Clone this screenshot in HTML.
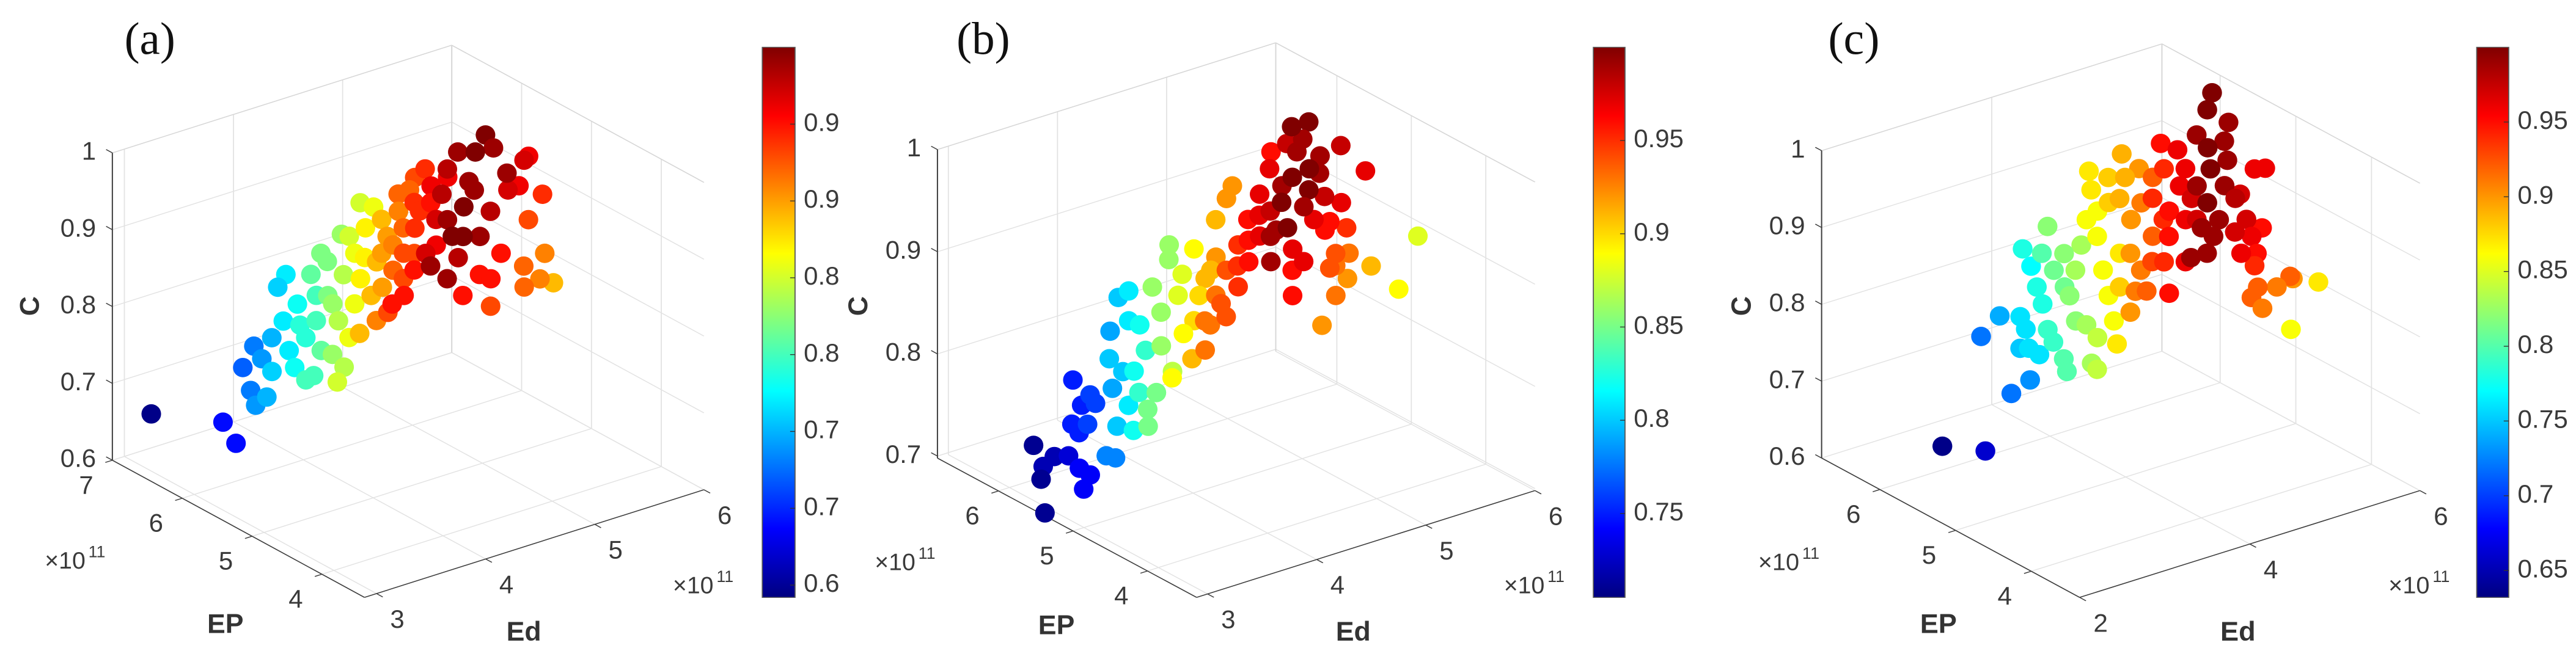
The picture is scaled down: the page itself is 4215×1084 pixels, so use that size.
<!DOCTYPE html>
<html>
<head>
<meta charset="utf-8">
<style>
  html,body{margin:0;padding:0;background:#fff;}
  body{width:4215px;height:1084px;position:relative;overflow:hidden;font-family:"Liberation Sans",Arial,sans-serif;}
  svg.panel{position:absolute;top:0;overflow:visible;}
</style>
</head>
<body>
<svg class="panel" id="pa" style="left:0px" width="1400" height="1084" viewBox="0 0 1568 1568" preserveAspectRatio="none"></svg>
<svg class="panel" id="pb" style="left:1400px" width="1400" height="1084" viewBox="0 0 1568 1568" preserveAspectRatio="none"></svg>
<svg class="panel" id="pc" style="left:2800px" width="1415" height="1084" viewBox="0 0 1568 1568" preserveAspectRatio="none"></svg>
<script>
// ---------- Panel (a) data ----------
const aEd=[3.24,3.20,3.05,3.65,3.37,3.16,3.23,3.86,3.69,3.45,4.38,4.48,3.97,4.15,3.69,3.89,3.46,3.23,3.32,2.98,3.76,3.92,3.55,4.09,4.30,4.74,4.45,5.02,4.97,4.60,4.24,3.72,3.41,3.83,4.30,3.44,3.30,3.37,3.36,3.84,4.16,4.41,4.66,4.87,4.95,3.92,4.08,4.33,4.61,3.80,5.02,4.90,4.30,3.88,3.47,3.31,3.61,3.57,3.97,4.35,4.73,5.00,5.24,5.23,5.04,5.44,5.59,4.21,4.62,5.03,5.22,5.43,5.16,4.48,4.13,4.15,3.81,4.02,4.72,5.06,4.76,4.96,4.50,4.20,4.52,3.94,4.20,4.27,4.43,4.54,4.71,4.82,4.98,3.77,4.05,4.37,4.62,4.64,4.76,4.60,4.11,4.14,3.81,3.95,4.50,3.86,4.19,3.26,4.03,4.67];
const aEP=[6.99,5.90,5.48,6.32,5.77,5.37,5.32,6.49,6.11,5.59,6.96,7.00,6.24,6.32,5.72,6.28,5.28,4.76,4.79,3.92,5.59,5.69,5.04,5.79,6.36,6.61,6.36,6.78,6.51,6.28,5.80,5.06,4.66,5.00,5.59,4.47,4.10,3.97,3.79,4.62,5.20,5.44,5.67,5.84,5.89,4.59,4.69,4.92,5.13,4.10,5.85,5.34,4.57,4.06,3.73,3.65,3.57,3.27,3.82,4.25,4.77,5.10,5.33,5.20,4.71,5.09,5.26,3.80,4.29,4.68,4.82,4.81,4.59,3.92,3.68,3.55,3.42,3.35,3.97,4.20,3.80,3.92,3.62,4.25,4.83,3.69,5.19,5.14,5.24,5.18,5.28,5.22,5.32,4.67,5.26,5.84,6.08,5.88,5.83,5.35,4.27,4.63,4.27,5.50,6.53,5.83,6.11,4.26,3.76,4.60];
const aC=[.645,.69,.69,.72,.73,.74,.75,.73,.74,.76,.76,.77,.77,.78,.77,.75,.78,.80,.80,.85,.79,.80,.81,.82,.81,.83,.82,.85,.86,.85,.84,.84,.83,.86,.87,.86,.89,.91,.93,.90,.89,.90,.91,.92,.93,.92,.93,.94,.95,.95,.94,.96,.97,.97,.95,.95,.99,.99,1.0,1.0,.99,1.0,1.0,.99,.99,.97,.96,.99,.98,.97,.96,.94,.93,.95,.95,.95,.95,.93,.92,.91,.91,.89,.92,.99,.98,.98,.90,.91,.92,.94,.96,.98,.99,.89,.87,.86,.87,.89,.92,.94,.96,.93,.93,.83,.82,.79,.80,.84,1.0,.99];
const aEdTicks=[3,4,5,6];
const aEPTicks=[4,5,6,7];
const aCTicks=[0.6,0.7,0.8,0.9,1];
const aCTickLabels=["0.6","0.7","0.8","0.9","1"];
const aBarTicks=[0.65,0.7,0.75,0.8,0.85,0.9,0.95];
const aBarLabels=["0.6","0.7","0.7","0.8","0.8","0.9","0.9"];

// ---------- Panel (b) data ----------
const bEd=[3.46,3.18,3.14,3.35,3.33,3.15,3.14,2.95,2.80,3.95,3.73,3.78,3.72,3.47,3.42,3.45,3.00,3.03,4.25,4.55,4.57,3.84,3.65,3.78,3.16,3.34,2.99,4.25,4.16,3.81,3.63,3.32,2.79,2.97,3.20,4.20,4.75,4.59,3.98,3.62,3.30,3.01,4.52,4.29,4.04,3.55,3.11,3.06,4.74,5.09,4.92,3.94,4.17,3.64,3.71,3.93,4.16,4.38,4.61,4.94,5.24,5.20,3.43,3.71,3.93,4.16,4.38,4.61,3.36,3.54,3.37,5.19,5.34,5.23,5.06,4.84,4.65,4.32,4.00,3.73,4.08,5.15,4.96,4.61,4.51,4.85,5.49,4.99,5.47,4.65,4.71,4.83,4.21,4.14,4.09,3.82,4.10,4.55,4.72,4.40,4.11,4.76,4.93,4.74,5.14,5.27,6.06,4.97,4.16,3.93,4.38,4.23,4.05];
const bEP=[6.35,5.81,5.78,5.91,5.69,5.28,5.12,4.93,5.23,6.54,6.10,6.06,5.90,5.85,5.68,5.61,4.70,4.62,6.48,6.81,6.70,5.89,5.57,5.62,4.79,4.90,4.32,6.23,5.95,5.36,5.25,4.73,3.83,4.10,4.32,5.84,6.42,6.19,5.40,4.87,4.25,3.83,5.75,5.57,5.26,4.47,3.71,3.46,5.78,6.07,5.90,4.83,5.01,4.46,4.27,4.45,4.63,4.82,5.00,5.35,5.77,5.50,3.72,3.97,4.15,4.34,4.52,4.70,3.83,3.95,3.92,5.42,5.41,5.33,5.16,4.67,4.62,4.28,3.96,3.56,3.85,4.98,4.71,4.34,4.26,4.48,5.20,4.46,4.84,4.33,4.27,4.38,3.97,3.72,3.80,3.40,4.03,3.97,4.14,3.67,3.43,4.04,4.27,4.17,4.28,4.10,5.00,4.36,4.49,4.30,4.67,5.03,4.91];
const bC=[.71,.72,.71,.72,.73,.74,.74,.74,.71,.75,.75,.76,.76,.75,.75,.76,.78,.78,.79,.80,.81,.80,.79,.80,.80,.81,.82,.81,.82,.83,.82,.83,.85,.85,.85,.86,.86,.86,.86,.86,.87,.89,.89,.88,.88,.89,.91,.93,.91,.92,.92,.90,.91,.90,.93,.94,.95,.96,.97,.97,.96,.98,.94,.95,.96,.97,.98,.99,.93,.94,.93,1.0,1.0,.99,.99,1.0,1.0,1.0,.99,.99,1.0,.99,.99,1.0,.99,.98,.98,.97,.97,.97,.96,.96,.97,.97,.96,.96,.99,.94,.93,.93,.92,.92,.93,.94,.91,.89,.88,.95,.96,.95,.97,.92,.91];
const bEdTicks=[3,4,5,6];
const bEPTicks=[4,5,6];
const bCTicks=[0.7,0.8,0.9,1];
const bCTickLabels=["0.7","0.8","0.9","1"];
const bBarTicks=[0.75,0.8,0.85,0.9,0.95];
const bBarLabels=["0.75","0.8","0.85","0.9","0.95"];

// ---------- Panel (c) data ----------
const cEd=[2.69,2.68,3.59,3.80,3.03,3.25,4.47,4.40,3.73,3.60,3.40,3.36,3.35,4.34,4.05,3.86,3.44,3.31,3.05,2.90,4.54,4.09,4.29,3.75,3.45,2.88,2.73,3.94,4.04,3.37,3.17,4.43,5.08,4.84,4.50,4.35,3.93,3.62,2.91,3.31,4.70,4.18,5.35,5.03,4.72,4.41,3.13,3.35,5.17,5.05,3.94,3.68,3.33,4.13,4.61,4.94,5.15,5.08,4.93,4.44,4.28,4.60,4.88,3.93,3.65,3.15,3.60,4.16,4.41,5.70,5.43,5.52,5.11,4.91,5.23,4.64,4.99,4.41,4.15,4.62,3.87,3.84,3.56,3.38,4.63,4.11,5.39,5.48,4.83,4.53,4.27,4.44,4.13,4.35,4.74,4.27,4.60,4.80,4.46,4.21,4.02,4.06,5.26,4.51,4.69,4.23,4.18,3.67,3.61];
const cEP=[5.95,5.37,6.45,6.44,5.42,5.42,6.89,6.70,6.09,5.87,5.72,5.56,5.41,6.49,6.23,5.94,5.40,5.18,4.75,4.54,6.64,6.05,6.14,5.46,5.04,4.19,3.95,5.74,5.71,4.81,4.44,6.07,6.70,6.40,6.08,5.77,5.22,4.80,3.89,4.38,6.16,5.28,6.57,6.39,5.89,5.39,3.96,4.14,6.14,6.19,4.87,4.44,3.97,4.79,5.48,5.70,5.83,5.53,5.54,5.14,4.74,4.96,5.20,4.35,4.10,3.47,3.76,4.24,4.59,5.77,5.53,5.35,5.31,4.94,5.08,4.60,4.77,4.52,4.09,4.39,3.85,3.66,3.43,3.44,4.26,3.89,4.86,4.82,4.42,4.00,3.86,3.83,3.62,3.66,4.03,3.60,3.50,3.69,3.52,3.49,3.36,3.26,3.87,3.39,6.00,4.76,4.41,4.28,4.64];
const cC=[.635,.66,.72,.74,.72,.73,.78,.77,.76,.76,.75,.76,.76,.80,.78,.78,.79,.79,.80,.80,.82,.81,.82,.82,.82,.83,.84,.81,.83,.83,.84,.83,.87,.87,.86,.86,.86,.86,.87,.86,.86,.87,.89,.88,.89,.90,.90,.91,.90,.89,.90,.91,.92,.92,.91,.92,.95,.96,.94,.94,.95,.96,.96,.95,.94,.95,.96,.97,.97,1.0,1.0,.99,.99,1.0,.99,1.0,.99,.99,1.0,.99,.99,.99,.99,.99,.98,.99,.96,.96,.97,.97,.97,.96,.96,.95,.95,.94,.92,.90,.91,.92,.92,.91,.87,.86,.88,.94,.96,.93,.88];
const cEdTicks=[2,4,6];
const cEPTicks=[4,5,6];
const cCTicks=[0.6,0.7,0.8,0.9,1];
const cCTickLabels=["0.6","0.7","0.8","0.9","1"];
const cBarTicks=[0.65,0.7,0.75,0.8,0.85,0.9,0.95];
const cBarLabels=["0.65","0.7","0.75","0.8","0.85","0.9","0.95"];

const NS='http://www.w3.org/2000/svg';
const YS=1.294; // text aspect compensation
function mk(parent,tag,attrs){const e=document.createElementNS(NS,tag);for(const k in attrs)e.setAttribute(k,attrs[k]);parent.appendChild(e);return e;}
function clamp(v){return Math.max(0,Math.min(1,v));}
function jet(t){t=clamp(t);const r=clamp(1.5-Math.abs(4*t-3)),g=clamp(1.5-Math.abs(4*t-2)),b=clamp(1.5-Math.abs(4*t-1));return 'rgb('+Math.round(r*255)+','+Math.round(g*255)+','+Math.round(b*255)+')';}
function txt(parent,x,y,str,size,opts){
  const t=mk(parent,'text',{transform:'translate('+x+','+y+') scale(1,'+YS+')'+(opts.rot?' rotate('+opts.rot+')':''),'font-size':size,'text-anchor':opts.anchor||'start','dominant-baseline':opts.base||'middle',fill:opts.fill||'#333','font-family':opts.family||'"Liberation Sans",Arial,sans-serif','font-weight':opts.weight||'normal'});
  t.textContent=str;return t;
}

function drawPanel(svg,g,ed,ep,cv,edT,epT,cT,cTL,barT,barL){
  const P=(e,p,c)=>[g.F[0]+(e-g.edMin)*g.dEd[0]+(p-g.epMin)*g.dEp[0], g.F[1]+(e-g.edMin)*g.dEd[1]+(p-g.epMin)*g.dEp[1]-(c-g.cMin)*g.kC];
  const line=(a,b,col,w,name)=>{const l=mk(svg,'line',{x1:a[0],y1:a[1],x2:b[0],y2:b[1],stroke:col,'stroke-width':w});
    
    
    return l;};
  const GC='#e2e2e2';
  edT.forEach(v=>line(P(v,g.epMin,g.cMin),P(v,g.epMax,g.cMin),GC,2,'floor-grid-ed'));
  epT.forEach(v=>line(P(g.edMin,v,g.cMin),P(g.edMax,v,g.cMin),GC,2,'floor-grid-ep'));
  edT.forEach(v=>line(P(v,g.epMax,g.cMin),P(v,g.epMax,g.cMax),GC,2,'wall-grid-ed'));
  cT.forEach(v=>line(P(g.edMin,g.epMax,v),P(g.edMax,g.epMax,v),GC,2,'wall-grid-c'));
  epT.forEach(v=>line(P(g.edMax,v,g.cMin),P(g.edMax,v,g.cMax),GC,2,'wall-grid-ep'));
  cT.forEach(v=>line(P(g.edMax,g.epMin,v),P(g.edMax,g.epMax,v),GC,2,'wall-grid-c'));
  line(P(g.edMax,g.epMax,g.cMin),P(g.edMax,g.epMax,g.cMax),'#d6d6d6',2,'back-edge');
  line(P(g.edMin,g.epMax,g.cMax),P(g.edMax,g.epMax,g.cMax),'#d6d6d6',2,'top-edge');
  line(P(g.edMax,g.epMin,g.cMax),P(g.edMax,g.epMax,g.cMax),'#d6d6d6',2,'top-edge');
  const AX='#3c3c3c';
  line(P(g.edMin,g.epMax,g.cMin),P(g.edMin,g.epMax,g.cMax),AX,2.2,'c-axis-line');
  line(P(g.edMin,g.epMax,g.cMin),P(g.edMin,g.epMin,g.cMin),AX,2.2,'ep-axis-line');
  line(P(g.edMin,g.epMin,g.cMin),P(g.edMax,g.epMin,g.cMin),AX,2.2,'ed-axis-line');
  const nEp=Math.hypot(g.dEp[0],g.dEp[1]), nEd=Math.hypot(g.dEd[0],g.dEd[1]);
  cT.forEach((v,i)=>{const a=P(g.edMin,g.epMax,v);
    line(a,[a[0]+g.dEp[0]/nEp*14,a[1]+g.dEp[1]/nEp*14],AX,2,'c-tick');
    const t=txt(svg,a[0]-30,a[1],cTL[i],47,{anchor:'end',fill:'#3a3a3a'});
    
    });
  epT.forEach(v=>{const a=P(g.edMin,v,g.cMin);
    line(a,[a[0]-g.dEd[0]/nEd*14,a[1]-g.dEd[1]/nEd*14],AX,2,'ep-tick');
    const t=txt(svg,a[0]-48,a[1]+63,String(v),47,{anchor:'middle',fill:'#3a3a3a'});
    
    });
  edT.forEach(v=>{const a=P(v,g.epMin,g.cMin);
    line(a,[a[0]-g.dEp[0]/nEp*14,a[1]-g.dEp[1]/nEp*14],AX,2,'ed-tick');
    const t=txt(svg,a[0]+38,a[1]+65,String(v),47,{anchor:'middle',fill:'#3a3a3a'});
    
    });
  const n=Math.min(ed.length,ep.length,cv.length);
  const idx=[];for(let i=0;i<n;i++)idx.push(i);
  const key=i=>(ed[i]-g.edMin)/(g.edMax-g.edMin)+(ep[i]-g.epMin)/(g.epMax-g.epMin)-0.5*(cv[i]-g.cMin)/(g.cMax-g.cMin);
  idx.sort((a,b)=>key(b)-key(a));
  idx.forEach(i=>{const p=P(ed[i],ep[i],cv[i]);
    const dot=mk(svg,'ellipse',{cx:p[0].toFixed(1),cy:p[1].toFixed(1),rx:18,ry:23,fill:jet((cv[i]-g.barLo)/(g.barHi-g.barLo))});
    
    });
  let t=txt(svg,g.letter[0],g.letter[1],g.letterText,84,{family:'"Liberation Serif",serif',fill:'#111',base:'auto'});
  
  
  t=txt(svg,g.cLab[0],g.cLab[1],'C',50,{anchor:'middle',weight:'bold',rot:-90,fill:'#333'});
  
  
  t=txt(svg,g.epLab[0],g.epLab[1],'EP',50,{anchor:'middle',weight:'bold',fill:'#333'});
  
  
  t=txt(svg,g.edLab[0],g.edLab[1],'Ed',50,{anchor:'middle',weight:'bold',fill:'#333'});
  
  
  [[g.epExp,'ep-exponent'],[g.edExp,'ed-exponent']].forEach(([pos,nm])=>{
    const e=txt(svg,pos[0],pos[1],'\u00d710',44,{fill:'#3a3a3a'});
    
    
    const s=txt(svg,pos[0]+80,pos[1]-22,'11',30,{fill:'#3a3a3a'});
    
    
  });
  const gid='grad'+svg.id;
  const defs=mk(svg,'defs',{});
  const lg=mk(defs,'linearGradient',{id:gid,x1:0,y1:1,x2:0,y2:0});
  for(let k=0;k<=8;k++){mk(lg,'stop',{offset:(k/8),'stop-color':jet(k/8)});}
  const bar=mk(svg,'rect',{x:g.bar[0],y:112,width:g.bar[1]-g.bar[0],height:1303,fill:'url(#'+gid+')',stroke:'#555','stroke-width':2});
  
  
  barT.forEach((v,i)=>{const y=1415-(v-g.barLo)/(g.barHi-g.barLo)*1303;
    line([g.bar[1]-9,y],[g.bar[1],y],'#333',2,'colorbar-tick');
    const tl=txt(svg,g.bar[1]+16,y,barL[i],47,{fill:'#3a3a3a'});
    
    });
}

drawPanel(document.getElementById('pa'),{F:[668,1415],edMin:2.89,edMax:6,dEd:[200,-82],epMin:3.39,epMax:7,dEp:[-128,-90],cMin:0.6,cMax:1,kC:1820,
  barLo:0.642,barHi:1.0,bar:[1397,1457],letter:[228,128],letterText:'(a)',cLab:[58,725],epLab:[413,1482],edLab:[960,1500],epExp:[82,1332],edExp:[1233,1390]},
  aEd,aEP,aC,aEdTicks,aEPTicks,aCTicks,aCTickLabels,aBarTicks,aBarLabels);
drawPanel(document.getElementById('pb'),{F:[625,1415],edMin:2.9,edMax:6,dEd:[200,-81.6],epMin:3.34,epMax:6.82,dEp:[-136.5,-94.8],cMin:0.698,cMax:1,kC:2420,
  barLo:0.705,barHi:1.0,bar:[1352,1410],letter:[185,128],letterText:'(b)',cLab:[8,725],epLab:[368,1485],edLab:[912,1500],epExp:[35,1335],edExp:[1188,1390]},
  bEd,bEP,bC,bEdTicks,bEPTicks,bCTicks,bCTickLabels,bBarTicks,bBarLabels);
drawPanel(document.getElementById('pc'),{F:[668,1415],edMin:2,edMax:6,dEd:[154.25,-63.25],epMin:3.36,epMax:6.77,dEp:[-137.2,-96.8],cMin:0.6,cMax:1,kC:1820,
  barLo:0.632,barHi:1.0,bar:[1388,1446],letter:[212,128],letterText:'(c)',cLab:[58,725],epLab:[412,1482],edLab:[955,1500],epExp:[85,1335],edExp:[1228,1390]},
  cEd,cEP,cC,cEdTicks,cEPTicks,cCTicks,cCTickLabels,cBarTicks,cBarLabels);
</script>
</body>
</html>
